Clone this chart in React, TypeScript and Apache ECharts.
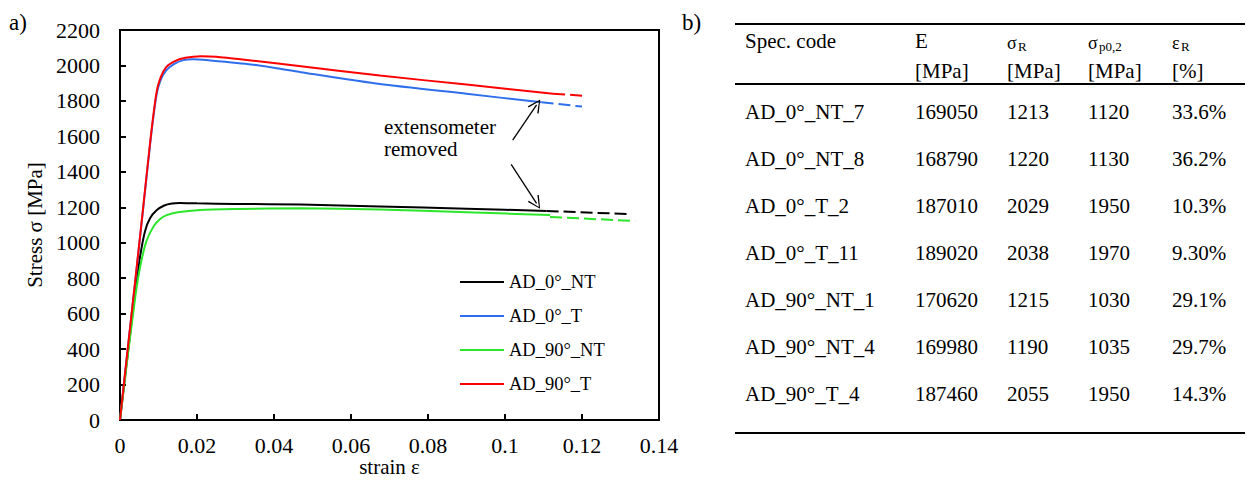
import React, { useEffect, useRef } from "react";
import * as echarts from "echarts";

// ---- chart data (strain, stress MPa) ----
const nt0Solid: number[][] = [[0,0],[0.002,370],[0.004,730],[0.0052,920],[0.0065,1065],[0.0078,1138],[0.0095,1183],[0.0115,1210],[0.0135,1221],[0.0155,1224],[0.02,1222],[0.03,1219],[0.047,1215],[0.0675,1204],[0.09,1192],[0.1108,1179]];
const nt0Dash: number[][] = [[0.1108,1179],[0.132,1162]];
const t0Solid: number[][] = [[0,0],[0.002,400],[0.004,790],[0.006,1190],[0.008,1590],[0.0095,1835],[0.0105,1915],[0.012,1972],[0.014,2008],[0.0165,2030],[0.019,2035],[0.023,2029],[0.034,2006],[0.047,1962],[0.0675,1895],[0.09,1840],[0.1095,1792]];
const t0Dash: number[][] = [[0.1095,1792],[0.12,1768]];
const nt90Solid: number[][] = [[0,0],[0.002,360],[0.004,700],[0.0052,860],[0.0068,1005],[0.0087,1092],[0.0105,1135],[0.0121,1156],[0.015,1172],[0.0208,1185],[0.03,1190],[0.0468,1194],[0.0675,1187],[0.09,1172],[0.1117,1156]];
const nt90Dash: number[][] = [[0.1117,1145],[0.1338,1123]];
const t90Solid: number[][] = [[0,0],[0.002,400],[0.004,795],[0.006,1195],[0.008,1600],[0.0095,1850],[0.0105,1930],[0.012,1990],[0.014,2022],[0.017,2043],[0.021,2052],[0.025,2049],[0.034,2028],[0.047,1996],[0.0675,1943],[0.09,1892],[0.1125,1841]];
const t90Dash: number[][] = [[0.1125,1841],[0.121,1828]];

const seriesNames = ["AD_0°_NT", "AD_0°_T", "AD_90°_NT", "AD_90°_T"];
const seriesColors = ["#000000", "#2F6FEB", "#2BE62B", "#FF0000"];

// arrows: [fromStrain, fromStress, toStrain, toStress]
const arrows: number[][] = [[0.1020,1579,0.1082,1777],[0.1016,1442,0.1082,1222]];

const xTicks = { min: 0, max: 0.14, interval: 0.02 };
const yTicks = { min: 0, max: 2200, interval: 200 };

// ---- table data ----
const specCodes = ["AD_0°_NT_7","AD_0°_NT_8","AD_0°_T_2","AD_0°_T_11","AD_90°_NT_1","AD_90°_NT_4","AD_90°_T_4"];
const eMod = ["169050","168790","187010","189020","170620","169980","187460"];
const sigmaR = ["1213","1220","2029","2038","1215","1190","2055"];
const sigmaP02 = ["1120","1130","1950","1970","1030","1035","1950"];
const epsR = ["33.6%","36.2%","10.3%","9.30%","29.1%","29.7%","14.3%"];

const FAMILY = "Liberation Serif";
const F = (size: number) => `${size}px "Liberation Serif"`;

export default function App() {
  const ref = useRef<HTMLDivElement>(null);
  useEffect(() => {
    document.body.style.margin = "0";
    if (!ref.current) return;
    const chart = echarts.init(ref.current, null, { renderer: "svg" });

    const solids = [nt0Solid, t0Solid, nt90Solid, t90Solid];
    const dashes = [nt0Dash, t0Dash, nt90Dash, t90Dash];
    const series: any[] = [];
    solids.forEach((d, i) => {
      series.push({
        name: seriesNames[i], type: "line", data: d, showSymbol: false, symbol: "none",
        smooth: 0.2,
        lineStyle: { color: seriesColors[i], width: 2 }, itemStyle: { color: seriesColors[i] },
        z: i === 3 ? 4 : 3,
      });
    });
    dashes.forEach((d, i) => {
      series.push({
        name: seriesNames[i] + " (ext. removed)", type: "line", data: d, showSymbol: false, symbol: "none",
        lineStyle: { color: seriesColors[i], width: 2, type: [12, 5] }, itemStyle: { color: seriesColors[i] },
      });
    });
    series.push({
      type: "lines", coordinateSystem: "cartesian2d", silent: true, z: 6,
      data: arrows.map(a => ({ coords: [[a[0], a[1]], [a[2], a[3]]] })),
      lineStyle: { color: "#000", width: 1.3, opacity: 1, curveness: 0 },
      symbol: ["none", "path://M0,0 L5,12 L4,12.6 L0,2.2 L-4,12.6 L-5,12 Z"],
      symbolSize: [11, 13],
    });

    // table graphics
    const colX = [745, 915, 1007, 1088, 1172];
    const rowY0 = 112, rowStep = 47;
    const txt = (x: number, y: number, s: string, size = 21) => ({
      type: "text", x, y, silent: true,
      style: { text: s, font: F(size), fill: "#000", textVerticalAlign: "middle", textAlign: "left" },
    });
    const graphics: any[] = [];
    graphics.push(txt(9, 22, "a)", 23));
    graphics.push(txt(682, 22, "b)", 23));
    graphics.push({ type: "text", x: 384, y: 138, silent: true,
      style: { text: "extensometer\nremoved", font: F(21), fill: "#000", textVerticalAlign: "middle", lineHeight: 22 } });
    [24, 84, 433].forEach(y => graphics.push({ type: "line", silent: true,
      shape: { x1: 735, y1: y, x2: 1245, y2: y }, style: { stroke: "#000", lineWidth: 2 } }));
    graphics.push(txt(colX[0], 41, "Spec. code"));
    graphics.push(txt(colX[1], 41, "E"));
    graphics.push(txt(colX[2], 43, "σ", 18));
    graphics.push(txt(colX[2] + 11, 46, "R", 13));
    graphics.push(txt(colX[3], 43, "σ", 18));
    graphics.push(txt(colX[3] + 11, 46, "p0,2", 13));
    graphics.push(txt(colX[4], 43, "ε", 18));
    graphics.push(txt(colX[4] + 9, 46, "R", 13));
    [1, 2, 3].forEach(c => graphics.push(txt(colX[c], 71, "[MPa]")));
    graphics.push(txt(colX[4], 71, "[%]"));
    specCodes.forEach((s, r) => {
      const y = rowY0 + r * rowStep;
      graphics.push(txt(colX[0], y, s));
      graphics.push(txt(colX[1], y, eMod[r]));
      graphics.push(txt(colX[2], y, sigmaR[r]));
      graphics.push(txt(colX[3], y, sigmaP02[r]));
      graphics.push(txt(colX[4], y, epsR[r]));
    });

    chart.setOption({
      animation: false,
      textStyle: { fontFamily: FAMILY, color: "#000" },
      grid: { left: 120, top: 30, width: 539, height: 390, show: true, borderColor: "#000", borderWidth: 2, containLabel: false, outerBoundsMode: "none" },
      legend: {
        data: seriesNames, orient: "vertical", left: 455, top: 267, itemWidth: 44, itemHeight: 2, itemGap: 14,
        icon: "rect", selectedMode: false,
        textStyle: { fontFamily: FAMILY, fontSize: 18.5, color: "#000", lineHeight: 20 },
      },
      xAxis: {
        type: "value", ...xTicks,
        name: "strain ε", nameLocation: "middle", nameGap: 36, nameMoveOverlap: false,
        nameTextStyle: { fontFamily: FAMILY, fontSize: 21, color: "#000" },
        axisLine: { show: true, lineStyle: { color: "#000", width: 2 } },
        axisTick: { show: true, inside: true, length: 6, lineStyle: { color: "#000", width: 2 } },
        splitLine: { show: false },
        axisLabel: { fontFamily: FAMILY, fontSize: 22, color: "#000", margin: 14, formatter: (v: number) => String(+v.toFixed(2)) },
      },
      yAxis: {
        type: "value", ...yTicks,
        name: "Stress σ [MPa]", nameLocation: "middle", nameGap: 75, nameMoveOverlap: false,
        nameTextStyle: { fontFamily: FAMILY, fontSize: 21, color: "#000" },
        axisLine: { show: true, lineStyle: { color: "#000", width: 2 } },
        axisTick: { show: true, inside: true, length: 6, lineStyle: { color: "#000", width: 2 } },
        splitLine: { show: false },
        axisLabel: { fontFamily: FAMILY, fontSize: 22, color: "#000", margin: 20, formatter: (v: number) => String(v) },
      },
      series,
      graphic: graphics,
    });
    return () => chart.dispose();
  }, []);
  return <div ref={ref} style={{ width: 1251, height: 480 }} />;
}
